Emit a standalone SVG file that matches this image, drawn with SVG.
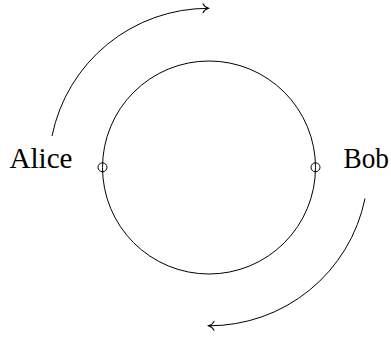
<svg xmlns="http://www.w3.org/2000/svg" width="391" height="337" viewBox="0 0 391 337">
<style>
  .ln{fill:none;stroke:#000;stroke-width:1}
  .lbl{font-family:"Liberation Serif","DejaVu Serif",serif;font-size:29px;fill:#000}
  .pt{fill:none;stroke:#000;stroke-width:1}
</style>
<defs>
  <marker id="to" markerUnits="userSpaceOnUse" markerWidth="14" markerHeight="14" viewBox="-7 -7 14 14" refX="0" refY="0" orient="auto" overflow="visible">
    <path d="M -5.5 -4.5 C -4.5 -2 -1.5 -0.5 0 0 C -1.5 0.5 -4.5 2 -5.5 4.5" fill="none" stroke="#000" stroke-width="1" stroke-linecap="round"/>
  </marker>
</defs>
<g id="ring">
  <circle class="ln" cx="209" cy="167.5" r="106.5"/>
</g>
<g id="connectors">
  <path class="ln" d="M 52 136 A 159.5 159.5 0 0 1 208.5 8.3" marker-end="url(#to)"/>
  <path class="ln" d="M 365 198.5 A 159 159 0 0 1 208.5 325.8" marker-end="url(#to)"/>
</g>
<g id="alice">
  <circle class="pt" cx="102.5" cy="167.3" r="4.5"/>
  <text class="lbl" x="9.5" y="167.5" textLength="63" lengthAdjust="spacingAndGlyphs">Alice</text>
</g>
<g id="bob">
  <circle class="pt" cx="315.5" cy="167.3" r="4.5"/>
  <text class="lbl" x="343.5" y="167.5" textLength="45.5" lengthAdjust="spacingAndGlyphs">Bob</text>
</g>
</svg>
